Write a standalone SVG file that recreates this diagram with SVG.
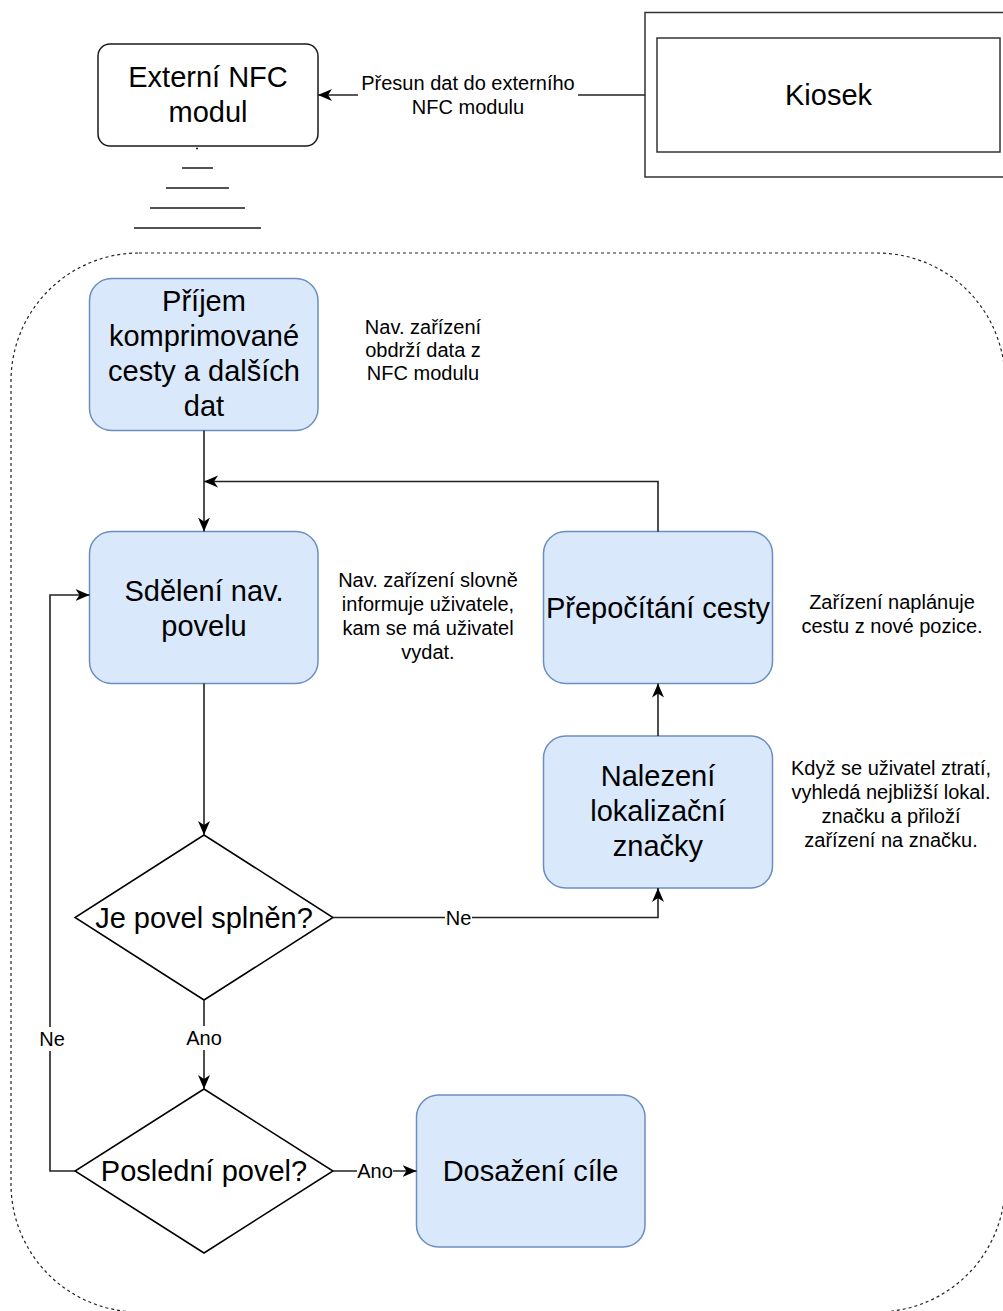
<svg xmlns="http://www.w3.org/2000/svg" width="1003" height="1311" viewBox="0 0 1003 1311">
  <style>
    .node { fill: #dae8fc; stroke: #6c8ebf; stroke-width: 1.5; }
    .plain { fill: #ffffff; stroke: #1a1a1a; stroke-width: 1.5; }
    .kiosk { fill: #ffffff; stroke: #333333; stroke-width: 1.5; }
    .diamond { fill: #ffffff; stroke: #000000; stroke-width: 1.5; }
    .edge { fill: none; stroke: #222222; stroke-width: 1.6; }
    .big { font-family: "Liberation Sans", Arial, sans-serif; font-size: 29px; fill: #000000; text-anchor: middle; }
    .small { font-family: "Liberation Sans", Arial, sans-serif; font-size: 20px; fill: #000000; text-anchor: middle; }
    .lbl-bg { fill: #ffffff; stroke: none; }
    .wave { stroke: #1a1a1a; stroke-width: 1.5; }
    .frame { fill: none; stroke: #222222; stroke-width: 1.2; stroke-dasharray: 3 3; }
  </style>
  <defs>
    <marker id="arrow" viewBox="0 0 14 13" refX="14" refY="6.5" markerWidth="14" markerHeight="13" markerUnits="userSpaceOnUse" orient="auto">
      <path d="M14,6.5 L0,0.5 L4,6.5 L0,12.5 Z" fill="#000000"/>
    </marker>
  </defs>

  <rect x="0" y="0" width="1003" height="1311" fill="#ffffff"/>

  <!-- dashed boundary of the navigation device -->
  <g id="device-frame">
    <rect class="frame" x="11" y="253" width="994" height="1059" rx="128" ry="128"/>
  </g>

  <!-- external NFC module with signal lines -->
  <g id="nfc-module">
    <rect class="plain" x="98" y="44" width="220" height="102" rx="12" ry="12"/>
    <text class="big" x="208" y="87">Externí NFC</text>
    <text class="big" x="208" y="122">modul</text>
    <line class="wave" x1="196" y1="148.5" x2="198" y2="148.5"/>
    <line class="wave" x1="182" y1="168" x2="213" y2="168"/>
    <line class="wave" x1="166" y1="188" x2="229" y2="188"/>
    <line class="wave" x1="150" y1="208" x2="245" y2="208"/>
    <line class="wave" x1="134" y1="228" x2="261" y2="228"/>
  </g>

  <!-- kiosk -->
  <g id="kiosk">
    <rect class="kiosk" x="645" y="12.5" width="370" height="164.5"/>
    <rect class="kiosk" x="657" y="38" width="343" height="114"/>
    <text class="big" x="828.5" y="105">Kiosek</text>
  </g>

  <g id="receive-path">
    <rect class="node" x="89.5" y="278.5" width="228.5" height="152" rx="22" ry="22"/>
    <text class="big" x="204" y="311">Příjem</text>
    <text class="big" x="204" y="346">komprimované</text>
    <text class="big" x="204" y="381">cesty a dalších</text>
    <text class="big" x="204" y="416">dat</text>
  </g>

  <g id="note-receive">
    <text class="small" x="423" y="334">Nav. zařízení</text>
    <text class="small" x="423" y="357">obdrží data z</text>
    <text class="small" x="423" y="380">NFC modulu</text>
  </g>

  <g id="announce-command">
    <rect class="node" x="89.5" y="531.5" width="228.5" height="152" rx="22" ry="22"/>
    <text class="big" x="204" y="601">Sdělení nav.</text>
    <text class="big" x="204" y="636">povelu</text>
  </g>

  <g id="note-announce">
    <text class="small" x="428" y="587">Nav. zařízení slovně</text>
    <text class="small" x="428" y="611">informuje uživatele,</text>
    <text class="small" x="428" y="635">kam se má uživatel</text>
    <text class="small" x="428" y="659">vydat.</text>
  </g>

  <g id="recalculate">
    <rect class="node" x="543.5" y="531.5" width="229" height="152" rx="22" ry="22"/>
    <text class="big" x="658" y="617.5">Přepočítání cesty</text>
  </g>

  <g id="note-recalculate">
    <text class="small" x="892" y="609">Zařízení naplánuje</text>
    <text class="small" x="892" y="633">cestu z nové pozice.</text>
  </g>

  <g id="find-marker">
    <rect class="node" x="543.5" y="736" width="229" height="152" rx="22" ry="22"/>
    <text class="big" x="658" y="786">Nalezení</text>
    <text class="big" x="658" y="821">lokalizační</text>
    <text class="big" x="658" y="856">značky</text>
  </g>

  <g id="note-find">
    <text class="small" x="891" y="775">Když se uživatel ztratí,</text>
    <text class="small" x="891" y="799">vyhledá nejbližší lokal.</text>
    <text class="small" x="891" y="823">značku a přiloží</text>
    <text class="small" x="891" y="847">zařízení na značku.</text>
  </g>

  <g id="command-done">
    <polygon class="diamond" points="204,835 333,917.5 204,1000 75,917.5"/>
    <text class="big" x="204" y="927.5">Je povel splněn?</text>
  </g>

  <g id="last-command">
    <polygon class="diamond" points="204,1089 333,1171 204,1253 75,1171"/>
    <text class="big" x="204" y="1181">Poslední povel?</text>
  </g>

  <g id="destination">
    <rect class="node" x="416.5" y="1095" width="228.5" height="152" rx="22" ry="22"/>
    <text class="big" x="530.5" y="1181">Dosažení cíle</text>
  </g>

  <!-- connectors -->
  <g id="connectors">
    <!-- kiosk to NFC module -->
    <path class="edge" d="M645,95 L318,95" marker-end="url(#arrow)"/>
    <rect class="lbl-bg" x="358" y="72" width="220" height="48"/>
    <text class="small" x="468" y="90">Přesun dat do externího</text>
    <text class="small" x="468" y="114">NFC modulu</text>

    <!-- receive -> announce -->
    <path class="edge" d="M204,430.5 L204,531.5" marker-end="url(#arrow)"/>

    <!-- recalculate -> back into announce -->
    <path class="edge" d="M658,531.5 L658,481.5 L204,481.5" marker-end="url(#arrow)"/>

    <!-- announce -> decision -->
    <path class="edge" d="M204,683.5 L204,835" marker-end="url(#arrow)"/>

    <!-- not done -> find marker -->
    <path class="edge" d="M333,917.5 L658,917.5 L658,888" marker-end="url(#arrow)"/>
    <rect class="lbl-bg" x="445" y="905" width="27" height="24"/>
    <text class="small" x="458.5" y="925">Ne</text>

    <!-- find marker -> recalculate -->
    <path class="edge" d="M658,736 L658,683.5" marker-end="url(#arrow)"/>

    <!-- done -> last command -->
    <path class="edge" d="M204,1000 L204,1089" marker-end="url(#arrow)"/>
    <rect class="lbl-bg" x="185" y="1026" width="38" height="24"/>
    <text class="small" x="204" y="1045">Ano</text>

    <!-- last -> destination -->
    <path class="edge" d="M333,1171 L416.5,1171" marker-end="url(#arrow)"/>
    <rect class="lbl-bg" x="357" y="1159" width="36" height="24"/>
    <text class="small" x="375" y="1178">Ano</text>

    <!-- not last -> next command -->
    <path class="edge" d="M75,1171 L50,1171 L50,595 L89.5,595" marker-end="url(#arrow)"/>
    <rect class="lbl-bg" x="39" y="1027" width="27" height="24"/>
    <text class="small" x="52" y="1046">Ne</text>
  </g>
</svg>
